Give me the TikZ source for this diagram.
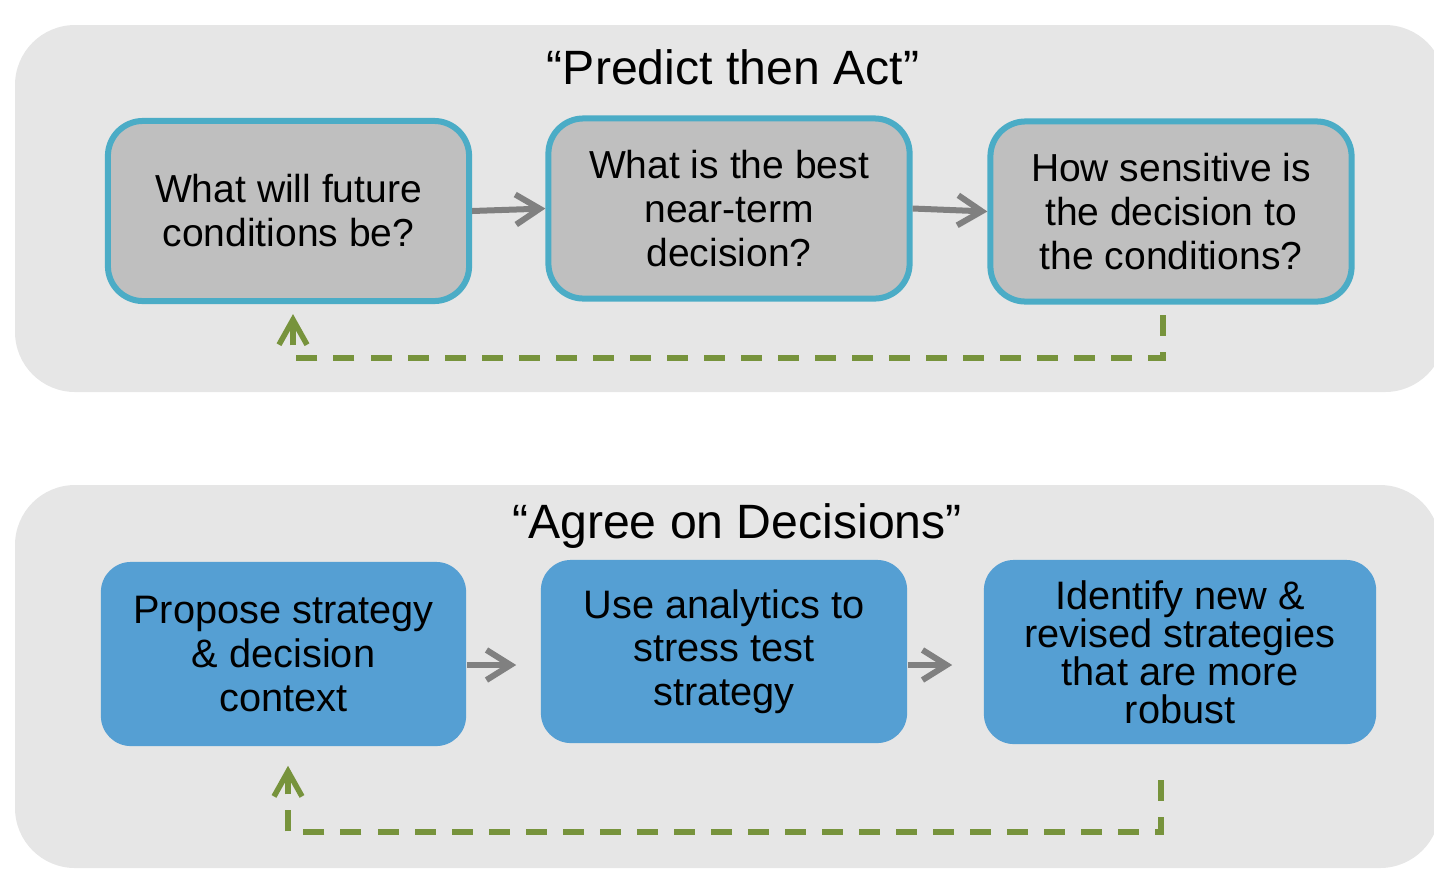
\documentclass[tikz,border=0pt]{standalone}
\usepackage{fontspec}
\setmainfont{Liberation Sans}
\usetikzlibrary{arrows.meta, calc}

\definecolor{panelgray}{HTML}{E6E6E6}
\definecolor{boxgray}{HTML}{BFBFBF}
\definecolor{boxedge}{HTML}{4BACC6}
\definecolor{boxblue}{HTML}{559FD3}
\definecolor{arrowgray}{HTML}{808080}
\definecolor{loopgreen}{HTML}{77933C}

\begin{document}
\begin{tikzpicture}[x=0.01cm, y=-0.01cm,
    predictbox/.style={draw=boxedge, line width=0.06cm, fill=boxgray, rounded corners=0.35cm,
        minimum width=3.61cm, minimum height=1.80cm, inner sep=0pt, align=center,
        font=\fontsize{11.1}{12.5}\selectfont},
    agreebox/.style={fill=boxblue, rounded corners=0.3cm, minimum height=1.84cm,
        inner sep=0pt, align=center, font=\fontsize{11.3}{12.4}\selectfont},
    flow/.style={draw=arrowgray, line width=0.06cm, -{Straight Barb[length=0.24cm, width=0.3cm]}},
    feedback/.style={draw=loopgreen, line width=0.055cm, dash pattern=on 0.21cm off 0.16cm,
        -{Straight Barb[length=0.25cm, width=0.28cm]}},
    heading/.style={anchor=base, font=\fontsize{13.7}{16}\selectfont}
]
            \useasboundingbox (0,0) rectangle (1434,872);
            % Draw the two grey panels
            \fill[panelgray, rounded corners=0.6cm] (15,25) rectangle (1445,392);
            \fill[panelgray, rounded corners=0.6cm] (15,485) rectangle (1440,868);

            % Predict then Act
            \node[heading] (title1) at (733,84) {“Predict then Act”};
            \node[predictbox] (q1) at (288.5,211) {What will future\\conditions be?};
            \node[predictbox] (q2) at (729,208.5) {What is the best\\near-term\\decision?};
            \node[predictbox] (q3) at (1171,211.5) {How sensitive is\\the decision to\\the conditions?};
            \draw[flow] (q1.east) -- (q2.west);
            \draw[flow] (q2.east) -- (q3.west);
            \coordinate (s1) at (1163,315);
            \draw[feedback] (s1) -- ++(0,43) -| ([xshift=0.045cm, yshift=-0.1cm]q1.south);

            % Agree on Decisions
            \node[heading] (title2) at (737,538) {“Agree on Decisions”};
            \node[agreebox, minimum width=3.65cm] (a1) at (283.5,654) {Propose strategy\\\& decision\\context};
            \node[agreebox, minimum width=3.66cm, minimum height=1.83cm] (a2) at (724,651.5) {Use analytics to\\stress test\\strategy};
            \node[agreebox, minimum width=3.92cm, font=\fontsize{11.3}{10.8}\selectfont] (a3) at (1180,652) {Identify new \&\\revised strategies\\that are more\\robust};
            \draw[flow, shorten >=0.24cm] ($(a1.east)+(0,11)$) -- ($(a2.west)+(0,13.5)$);
            \draw[flow, shorten >=0.31cm] ($(a2.east)+(0,13.5)$) -- ($(a3.west)+(0,13)$);
            \coordinate (s2) at (1161,780);
            \draw[feedback] (s2) -- ++(0,52) -| ([xshift=0.045cm, yshift=-0.19cm]a1.south);
\end{tikzpicture}
\end{document}
